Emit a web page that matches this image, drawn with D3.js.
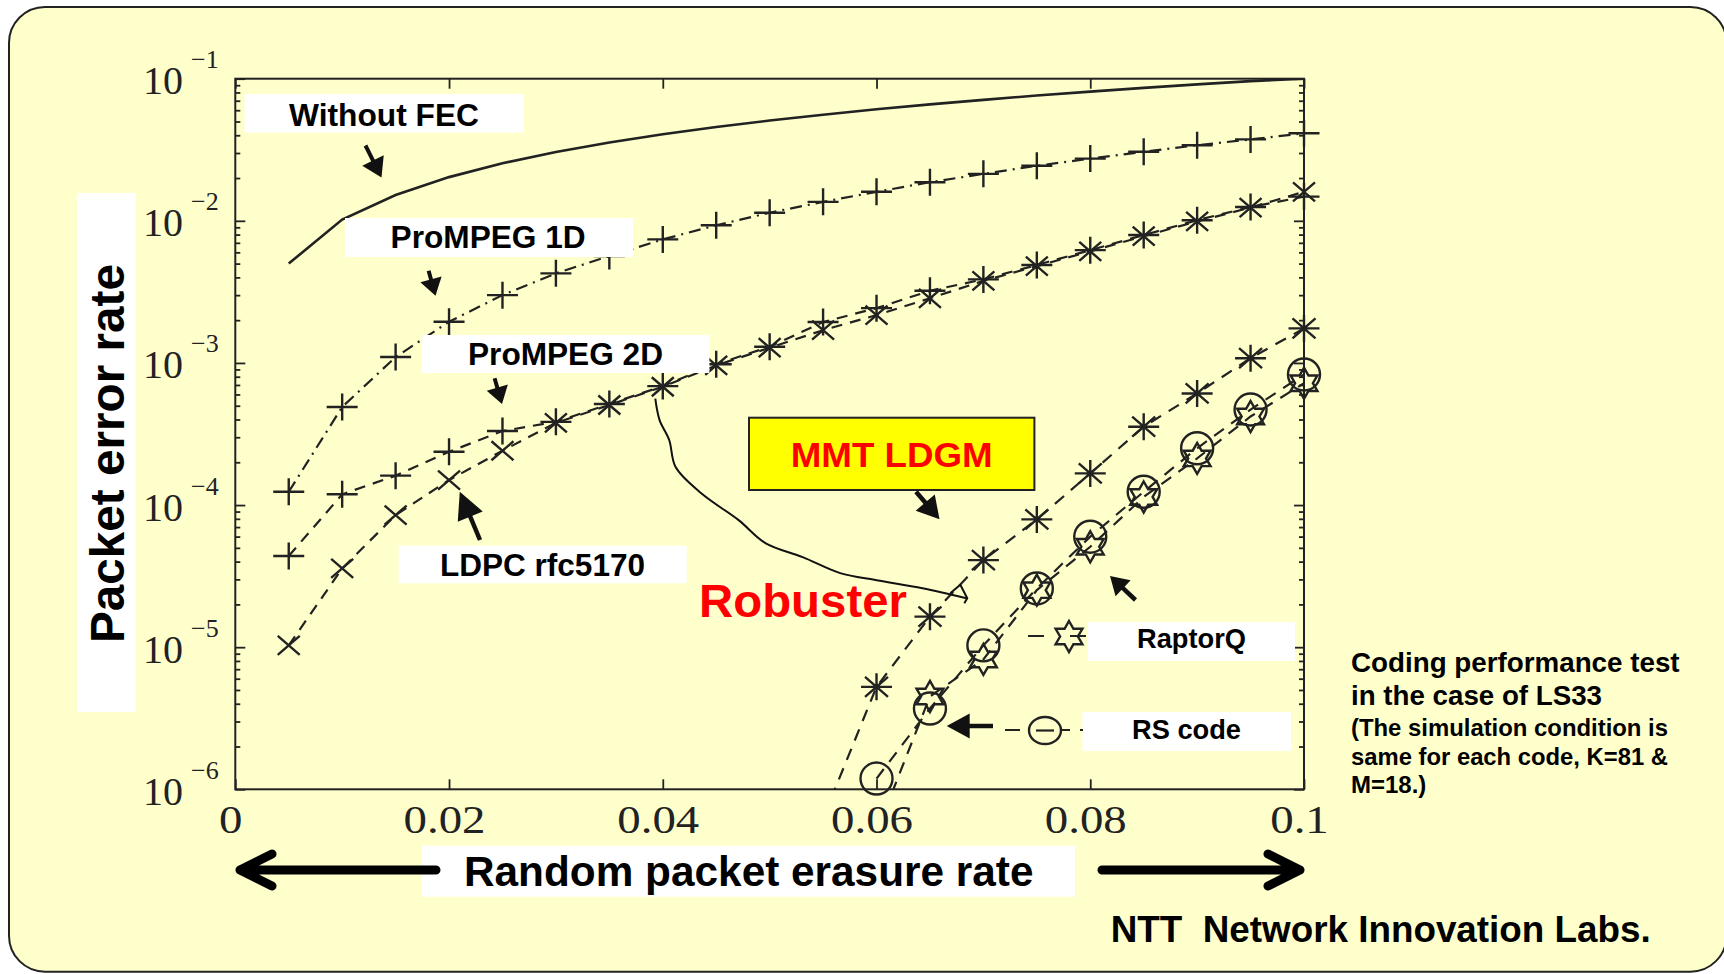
<!DOCTYPE html>
<html><head><meta charset="utf-8">
<script src="https://cdn.jsdelivr.net/npm/d3@7"></script>
<style>html,body{margin:0;padding:0;background:#fff}svg{display:block}</style>
</head><body>
<svg id="c" width="1724" height="974"></svg>
<script>
// ---------------- DATA ----------------
const erasureRates = [0.005,0.01,0.015,0.02,0.025,0.03,0.035,0.04,0.045,0.05,0.055,0.06,0.065,0.07,0.075,0.08,0.085,0.09,0.095,0.1];
const withoutFEC  = [0.005,0.0102,0.0152,0.0203,0.0254,0.0305,0.0356,0.0406,0.0457,0.0508,0.0558,0.0609,0.066,0.071,0.0761,0.0811,0.0862,0.0912,0.0962,0.1];
const proMPEG1D   = [1.24e-4,4.9e-4,1.1e-3,1.95e-3,3.0e-3,4.27e-3,5.65e-3,7.4e-3,9.3e-3,0.0114,0.0136,0.016,0.0187,0.0214,0.0244,0.0274,0.0306,0.034,0.0374,0.0413];
const proMPEG2D   = [4.38e-5,1.19e-4,1.61e-4,2.37e-4,3.32e-4,3.85e-4,5.14e-4,6.87e-4,9.8e-4,1.30e-3,1.94e-3,2.43e-3,3.22e-3,3.87e-3,4.89e-3,6.22e-3,7.94e-3,0.0101,0.0125,0.0148];
const ldpcRfc5170 = [1.03e-5,3.58e-5,8.5e-5,1.5e-4,2.41e-4,3.79e-4,5.06e-4,6.8e-4,9.6e-4,1.28e-3,1.70e-3,2.17e-3,2.85e-3,3.78e-3,4.8e-3,6.1e-3,7.8e-3,0.0099,0.0124,0.016];
const mmtRates    = [0.055,0.06,0.065,0.07,0.075,0.08,0.085,0.09,0.095,0.1];
const mmtLDGM     = [6.25e-7,5.26e-6,1.64e-5,4.1e-5,7.93e-5,1.67e-4,3.56e-4,6.1e-4,1.08e-3,1.75e-3];
const codeRates   = [0.06,0.065,0.07,0.075,0.08,0.085,0.09,0.095,0.1];
const raptorQ     = [5e-7,4.5e-6,8.2e-6,2.52e-5,5.09e-5,1.14e-4,2.13e-4,4.2e-4,7.2e-4];
const rsCode      = [1.19e-6,3.7e-6,1.03e-5,2.59e-5,5.99e-5,1.24e-4,2.51e-4,4.7e-4,8.3e-4];
const robusterCurve = [[0.0393,5.6e-4],[0.0397,3.96e-4],[0.0406,2.87e-4],[0.0412,1.85e-4],[0.0436,1.21e-4],[0.0471,7.83e-5],[0.0496,5.4e-5],[0.0531,4.3e-5],[0.0566,3.32e-5],[0.06,2.96e-5],[0.0643,2.6e-5],[0.0684,2.21e-5]];
const xTicks = [0,0.02,0.04,0.06,0.08,0.1];
const xTickLabels = ["0","0.02","0.04","0.06","0.08","0.1"];
const yTicks = [1e-1,1e-2,1e-3,1e-4,1e-5,1e-6];
const yTickExponents = ["\u22121","\u22122","\u22123","\u22124","\u22125","\u22126"];

// ---------------- LAYOUT ----------------
const svg = d3.select("#c");
const P = {left:235.3, right:1304, top:78.7, bottom:789.3};
const INK = "#222";
const SANS = "'Liberation Sans', Arial, sans-serif";
const SERIF = "'Liberation Serif', 'Times New Roman', serif";
const x = d3.scaleLinear().domain([0,0.1]).range([P.left,P.right]);
const y = d3.scaleLog().domain([1e-6,1e-1]).range([P.bottom,P.top]);

// background panel
svg.append("rect").attr("x",9).attr("y",7).attr("width",1717.5).attr("height",964.7)
  .attr("rx",36).attr("ry",36).attr("fill","#ffffcc").attr("stroke",INK).attr("stroke-width",2);

// clip
svg.append("clipPath").attr("id","plotclip").append("rect")
  .attr("x",P.left).attr("y",P.top).attr("width",P.right-P.left).attr("height",P.bottom-P.top);

// axes
function styleAxis(g){ g.select(".domain").remove(); g.selectAll("line").attr("stroke",INK).attr("stroke-width",1.8); }
const minorTicks = y.ticks().filter(v => !yTicks.some(t => Math.abs(Math.log10(v)-Math.log10(t))<1e-6));
svg.append("g").attr("transform",`translate(0,${P.top})`)
  .call(d3.axisTop(x).tickValues(xTicks).tickSize(-10).tickFormat("")).call(styleAxis);
const gxb = svg.append("g").attr("transform",`translate(0,${P.bottom})`)
  .call(d3.axisBottom(x).tickValues(xTicks).tickSize(-10).tickPadding(0).tickFormat((d,i)=>xTickLabels[i])).call(styleAxis);
gxb.selectAll("text").attr("y",43.7).attr("dy",null).attr("dx",-5)
  .attr("fill",INK).style("font-family",SERIF).style("font-size","40px");
gxb.selectAll("text").each(function(){ const L=this.getComputedTextLength(); d3.select(this).attr("textLength",L*1.17).attr("lengthAdjust","spacingAndGlyphs"); });
svg.append("g").attr("transform",`translate(${P.left},0)`)
  .call(d3.axisLeft(y).tickValues(yTicks).tickSize(-10).tickFormat("")).call(styleAxis);
svg.append("g").attr("transform",`translate(${P.left},0)`)
  .call(d3.axisLeft(y).tickValues(minorTicks).tickSize(-5).tickFormat("")).call(styleAxis);
svg.append("g").attr("transform",`translate(${P.right},0)`)
  .call(d3.axisRight(y).tickValues(yTicks).tickSize(-10).tickFormat("")).call(styleAxis);
svg.append("g").attr("transform",`translate(${P.right},0)`)
  .call(d3.axisRight(y).tickValues(minorTicks).tickSize(-5).tickFormat("")).call(styleAxis);
// frame
svg.append("rect").attr("x",P.left).attr("y",P.top).attr("width",P.right-P.left).attr("height",P.bottom-P.top)
  .attr("fill","none").attr("stroke",INK).attr("stroke-width",2);

// y tick labels 10^k
const yl = svg.append("g");
yTicks.forEach((t,i)=>{
  yl.append("text").attr("x",183).attr("y",y(t)+15.5).attr("text-anchor","end")
    .attr("fill",INK).style("font-family",SERIF).style("font-size","40px").text("10");
  yl.append("text").attr("x",191).attr("y",y(t)-10.5).attr("text-anchor","start")
    .attr("fill",INK).style("font-family",SERIF).style("font-size","26px").text(yTickExponents[i]);
});

// ---------------- SERIES ----------------
const series = [
  {name:"Without FEC", xs:erasureRates, ys:withoutFEC, dash:null, markers:[]},
  {name:"ProMPEG 1D", xs:erasureRates, ys:proMPEG1D, dash:"12,6,2,6", markers:["plus"]},
  {name:"ProMPEG 2D", xs:erasureRates, ys:proMPEG2D, dash:"11,8", markers:["plus"]},
  {name:"LDPC rfc5170", xs:erasureRates, ys:ldpcRfc5170, dash:"11,8", markers:["cross"]},
  {name:"MMT LDGM", xs:mmtRates, ys:mmtLDGM, dash:"12,9", markers:["asterisk"]},
  {name:"RaptorQ", xs:codeRates, ys:raptorQ, dash:"12,9", markers:["hexagram"]},
  {name:"RS code", xs:codeRates, ys:rsCode, dash:"12,9", markers:["circle"]}
];
const hexPts = d3.range(12).map(i=>{const a=-Math.PI/2+i*Math.PI/6, r=(i%2?8.9:15.5); return [r*Math.cos(a), r*Math.sin(a)];});
const markerPaths = {
  plus:"M-15.5,0H15.5M0,-13.5V13.5",
  cross:"M-11,-9.5L11,9.5M-11,9.5L11,-9.5",
  asterisk:"M-15.5,0H15.5M0,-13.5V13.5M-11.5,-10L11.5,10M-11.5,10L11.5,-10",
  hexagram:"M"+hexPts.map(p=>p.join(",")).join("L")+"Z",
  circle:"M-16,0A16,16 0 1,0 16,0A16,16 0 1,0 -16,0Z"
};
const line = d3.line().x(d=>x(d[0])).y(d=>y(d[1]));
const gl = svg.append("g").attr("clip-path","url(#plotclip)");
series.forEach(s=>{
  const pts = s.xs.map((v,i)=>[v,s.ys[i]]);
  gl.append("path").attr("d",line(pts)).attr("fill","none").attr("stroke",INK)
    .attr("stroke-width",s.dash?2.2:2.6).attr("stroke-dasharray",s.dash);
});
const gm = svg.append("g");
series.forEach(s=>{
  const pts = s.xs.map((v,i)=>[v,s.ys[i]]).filter(d=>d[1]>=1e-6);
  s.markers.forEach(m=>{
    gm.selectAll(null).data(pts).enter().append("path")
      .attr("transform",d=>`translate(${x(d[0])},${y(d[1])})`)
      .attr("d",markerPaths[m]).attr("fill","none").attr("stroke",INK).attr("stroke-width",2.4);
  });
});

// Robuster curve annotation
svg.append("path").attr("d",d3.line().x(d=>x(d[0])).y(d=>y(d[1])).curve(d3.curveCatmullRom)(robusterCurve))
  .attr("fill","none").attr("stroke","#111").attr("stroke-width",2);
{
  const e = robusterCurve[robusterCurve.length-1];
  const ex=x(e[0]), ey=y(e[1]);
  svg.append("path").attr("d",`M${ex-16},${ey-5}L${ex-6},${ey-13.5}L${ex+1},${ey}L${ex-2},${ey+5}`)
    .attr("fill","none").attr("stroke","#111").attr("stroke-width",2).attr("stroke-linejoin","round");
}

// ---------------- ANNOTATIONS ----------------
const boxes = [
  {x:244.6,y:94,w:279,h:38.7},
  {x:345,y:218,w:288,h:39},
  {x:422,y:335,w:287.4,h:38},
  {x:398.7,y:545.7,w:288,h:37.6},
  {x:1088,y:622,w:207,h:39},
  {x:1082.5,y:712,w:208.5,h:39},
  {x:422,y:845.7,w:653,h:51},
  {x:77,y:193,w:59,h:519}
];
boxes.forEach(b=>svg.append("rect").attr("x",b.x).attr("y",b.y).attr("width",b.w).attr("height",b.h).attr("fill","#fff"));
svg.append("rect").attr("x",749).attr("y",417.7).attr("width",285.4).attr("height",72.3)
  .attr("fill","#ffff00").attr("stroke",INK).attr("stroke-width",2);

const labels = [
  {t:"Without FEC", x:289, y:126, fs:32, len:190, c:"#000"},
  {t:"ProMPEG 1D", x:390.6, y:248.3, fs:32, len:195, c:"#000"},
  {t:"ProMPEG 2D", x:468, y:365, fs:32, len:195, c:"#000"},
  {t:"LDPC rfc5170", x:440, y:576, fs:32, len:205, c:"#000"},
  {t:"MMT LDGM", x:790.7, y:467, fs:35, len:202, c:"#ff0000"},
  {t:"Robuster", x:699, y:617, fs:47, len:208, c:"#ff0000"},
  {t:"RaptorQ", x:1137, y:648.3, fs:28, len:109, c:"#000"},
  {t:"RS code", x:1132, y:738.5, fs:28, len:109, c:"#000"},
  {t:"Random packet erasure rate", x:464, y:886, fs:42, len:569.5, c:"#000"},
  {t:"NTT\u00a0 Network Innovation Labs.", x:1110.7, y:941.7, fs:37, len:540, c:"#000"},
  {t:"Coding performance test", x:1351, y:672, fs:27.7, len:328.6, c:"#000"},
  {t:"in the case of LS33", x:1351, y:705, fs:27.7, len:251, c:"#000"},
  {t:"(The simulation condition is", x:1351, y:736, fs:24, len:317, c:"#000"},
  {t:"same for each code, K=81 &", x:1351, y:765, fs:24, len:317, c:"#000"},
  {t:"M=18.)", x:1351, y:792.5, fs:24, len:null, c:"#000"}
];
labels.forEach(l=>{
  const t = svg.append("text").attr("x",l.x).attr("y",l.y).attr("fill",l.c)
    .style("font-family",SANS).style("font-weight","bold").style("font-size",l.fs+"px").text(l.t);
  if(l.len) t.attr("textLength",l.len).attr("lengthAdjust","spacingAndGlyphs");
});
svg.append("text").attr("transform","translate(124,453.5) rotate(-90)").attr("text-anchor","middle")
  .attr("fill","#000").style("font-family",SANS).style("font-weight","bold").style("font-size","48px")
  .attr("textLength",379).attr("lengthAdjust","spacingAndGlyphs").text("Packet error rate");

// legend samples
svg.append("path").attr("d","M1028,636H1090").attr("stroke",INK).attr("stroke-width",2.2).attr("stroke-dasharray","16,26");
svg.append("path").attr("transform","translate(1069,636.5)").attr("d",markerPaths.hexagram).attr("fill","none").attr("stroke",INK).attr("stroke-width",2.4);
svg.append("path").attr("d","M1005,730H1083").attr("stroke",INK).attr("stroke-width",2.2).attr("stroke-dasharray","15,10");
svg.append("ellipse").attr("cx",1045).attr("cy",730.5).attr("rx",16).attr("ry",13.5).attr("fill","#ffffcc").attr("stroke",INK).attr("stroke-width",2.4);
svg.append("path").attr("d","M1036,730.5H1054").attr("stroke",INK).attr("stroke-width",2.2);

// filled arrows
function arrow(x1,y1,x2,y2,hl,hw,sw){
  const a=Math.atan2(y2-y1,x2-x1), ca=Math.cos(a), sa=Math.sin(a);
  const bx=x2-hl*ca, by=y2-hl*sa;
  svg.append("line").attr("x1",x1).attr("y1",y1).attr("x2",bx+ca).attr("y2",by+sa).attr("stroke","#111").attr("stroke-width",sw);
  svg.append("path").attr("d",`M${x2},${y2}L${bx-hw/2*sa},${by+hw/2*ca}L${bx+hw/2*sa},${by-hw/2*ca}Z`).attr("fill","#111");
}
arrow(365.5,145.5,381.5,177.5,19,24,4);
arrow(428.6,270.7,435.5,295.7,17,22,4);
arrow(494.6,378.3,502,404,17,22,4);
arrow(480,540,459.8,491.7,27,27,4.5);
arrow(916,491.7,939.5,519.3,22,25,4.5);
arrow(1135.5,600,1110,576,18,22,4.5);
arrow(993,726,946.7,726,23,25,4.5);

// axis-title arrows
function chevron(x1,x2,y0,dir){
  svg.append("path").attr("d",`M${x1},${y0}H${x2}M${x2-dir*32},${y0-16}L${x2},${y0}L${x2-dir*32},${y0+16}`)
    .attr("fill","none").attr("stroke","#000").attr("stroke-width",9).attr("stroke-linecap","round").attr("stroke-linejoin","round");
}
chevron(436,240,870,-1);
chevron(1102,1300,870,1);
</script>
</body></html>
